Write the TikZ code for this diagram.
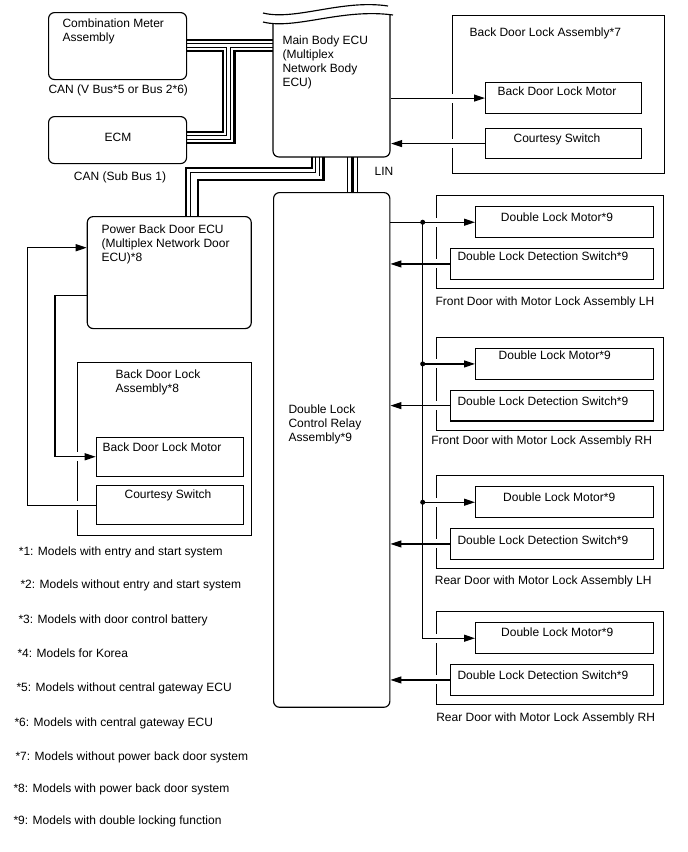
\documentclass[tikz,border=0pt]{standalone}
\usepackage{fontspec}
\setmainfont{Liberation Sans}
\usetikzlibrary{arrows.meta,backgrounds,calc}
\begin{document}
\begin{tikzpicture}[x=1pt,y=-1pt,font=\fontsize{12}{14}\selectfont,line width=1.15pt,
  boxr/.style={draw,rounded corners=6pt,inner sep=0pt,anchor=north west},
  boxs/.style={draw,inner sep=0pt,anchor=north west},
  txt/.style={inner sep=0pt,anchor=base west},
  txtc/.style={inner sep=0pt,anchor=base},
  txtm/.style={inner sep=0pt,anchor=north west,align=left},
  arr/.style={-{Triangle[length=11pt,width=7pt]}},
  gapbox/.style={fill=white,draw=none,inner sep=0pt,minimum width=4pt,minimum height=9pt},
  jdot/.style={circle,fill=black,draw=none,inner sep=0pt,minimum size=5pt}]
\useasboundingbox (0,0) rectangle (688,852);

% ---------- top left units ----------
\node[boxr,minimum width=138pt,minimum height=67pt] (cm) at (48,12) {};
\node[txtm] (cmT) at (62,18.5) {Combination Meter\\Assembly};
\node[txt] (canV) at (48,93.3) {CAN (V Bus*5 or Bus 2*6)};
\node[boxr,minimum width=138pt,minimum height=47pt] (ecm) at (48,116) {};
\node[txtc] (ecmT) at (118,141.3) {ECM};
\node[txtc] (canS) at (120,180.3) {CAN (Sub Bus 1)};

% ---------- main body ECU ----------
\node[inner sep=0pt,anchor=south west,minimum width=117pt,minimum height=137pt] (mb) at (273,157) {};
\draw[rounded corners=6pt] (273,23.5) -- (273,157) -- (390,157) -- (390,14.6);
\draw (263,22) .. controls (295,30) and (342,8) .. (393,15);
\draw (263,13) .. controls (295,21) and (342,-1) .. (388,6);
\node[txtm] (mbT) at (282,35.5) {Main Body ECU\\(Multiplex\\Network Body\\ECU)};
\node[txtc] (linT) at (384,175.3) {LIN};

% ---------- back door lock assembly *7 ----------
\node[boxs,minimum width=212pt,minimum height=158pt] (bda7) at (452,15) {};
\node[txt] (bda7T) at (469,36.3) {Back Door Lock Assembly*7};
\node[boxs,minimum width=156pt,minimum height=31pt] (bdm7) at (485,82) {};
\node[txt] (bdm7T) at (497,95.3) {Back Door Lock Motor};
\node[boxs,minimum width=156pt,minimum height=30pt] (cs7) at (485,128) {};
\node[txtc] (cs7T) at (557,142.3) {Courtesy Switch};

% ---------- power back door ECU ----------
\node[boxr,minimum width=164pt,minimum height=112pt] (pbd) at (86.7,216) {};
\node[txtm] (pbdT) at (101,224.5) {Power Back Door ECU\\(Multiplex Network Door\\ECU)*8};

% ---------- back door lock assembly *8 ----------
\node[boxs,minimum width=173.4pt,minimum height=173.3pt] (bda8) at (77.3,361.7) {};
\node[txtm] (bda8T) at (115,369.5) {Back Door Lock\\Assembly*8};
\node[boxs,minimum width=147.6pt,minimum height=39pt] (bdm8) at (95.7,436.7) {};
\node[txt] (bdm8T) at (102,451) {Back Door Lock Motor};
\node[boxs,minimum width=147.6pt,minimum height=39pt] (cs8) at (95.7,485) {};
\node[txtc] (cs8T) at (168,498.6) {Courtesy Switch};

% ---------- double lock control relay ----------
\node[boxr,minimum width=116.3pt,minimum height=514.7pt] (dl) at (273,192) {};
\node[txtm] (dlT) at (288,403.8) {Double Lock\\Control Relay\\Assembly*9};

% ---------- door groups ----------
\foreach \n/\G/\mc/\mx/\sc/\lx/\ly/\lab in {
  1/195/21.7/557/61/435/300.7/Front Door with Motor Lock Assembly LH,
  2/336.7/18.3/554.7/64.3/430.7/440/Front Door with Motor Lock Assembly RH,
  3/475/21.7/559.2/65/434.3/580/Rear Door with Motor Lock Assembly LH,
  4/611/20.7/557.2/64/435.7/716.7/Rear Door with Motor Lock Assembly RH}{
  \node[boxs,minimum width=227.6pt,minimum height=93.3pt] (door\n) at (435.7,\G) {};
  \node[boxs,minimum width=178.3pt,minimum height=30.7pt] (mot\n) at (475,\G+11.3) {};
  \node[txtc] (motT\n) at (\mx,\G+\mc+4.3) {Double Lock Motor*9};
  \node[boxs,minimum width=203.3pt,minimum height=30.7pt] (sw\n) at (450,\G+53) {};
  \node[txt] (swT\n) at (457,\G+\sc+4.3) {Double Lock Detection Switch*9};
  \node[txt] (lab\n) at (\lx,\ly+4.3) {\lab};
  \node[gapbox] (gm\n) at (door\n.west |- mot\n.west) {};
  \node[gapbox] (gs\n) at (door\n.west |- sw\n.west) {};
  \draw[arr] (sw\n.west) -- (dl.east |- sw\n.west);
}

% ---------- crossing gaps ----------
\node[gapbox] (g7a) at (bda7.west |- bdm7.west) {};
\node[gapbox] (g7b) at (bda7.west |- cs7.west) {};
\node[gapbox] (g8a) at (bda8.west |- bdm8.west) {};
\node[gapbox] (g8b) at (bda8.west |- cs8.west) {};

% ---------- connectors ----------
\draw[arr] (mb.east |- bdm7.west) -- (bdm7.west);
\draw[arr] (cs7.west) -- (mb.east |- cs7.west);

\coordinate (l1) at (27.3,247.7);
\coordinate (l2) at (55,295.7);
\draw[arr] (cs8.west) -| (l1) -- (pbd.west |- l1);
\draw[arr] (pbd.west |- l2) -- (l2) |- (bdm8.west);

\coordinate (vb) at (422.7,0);
\node[jdot] (d1) at (vb |- mot1.west) {};
\node[jdot] (d2) at (vb |- mot2.west) {};
\node[jdot] (d3) at (vb |- mot3.west) {};
\draw[arr] (dl.east |- mot1.west) -- (mot1.west);
\draw[arr] (d2.center) -- (mot2.west);
\draw[arr] (d3.center) -- (mot3.west);
\draw[arr] (d1.center) -- (vb |- mot4.west) -- (mot4.west);

% ---------- legend ----------
\foreach \i/\lx/\ly/\t in {
  1/18.3/551/{*1: Models with entry and start system},
  2/20/584/{*2: Models without entry and start system},
  3/18/619/{*3: Models with door control battery},
  4/17/653.3/{*4: Models for Korea},
  5/16/687.3/{*5: Models without central gateway ECU},
  6/14/722.3/{*6: Models with central gateway ECU},
  7/15/755.7/{*7: Models without power back door system},
  8/13/787.7/{*8: Models with power back door system},
  9/13/820/{*9: Models with double locking function}}{
  \node[txt] (leg\i) at (\lx,\ly+4.3) {\t};
}

% ---------- buses (background) ----------
\coordinate (ja) at (228.7,45.5);
\coordinate (jb) at (228.7,137.5);
\coordinate (jc) at (317.7,174);
\coordinate (jd) at (192,174);
\coordinate (lin) at (352.5,0);
\begin{scope}[on background layer]
  \fill[white] (0,0) rectangle (688,852);
  \foreach \w/\c in {13.8/black,9.2/white,4.6/black,3/white}{
    \draw[line width=\w pt,draw=\c,line join=miter]
      (cm.east |- ja) -- (mb.west |- ja)
      (ecm.east |- jb) -- (jb) -- (ja)
      (mb.south -| jc) -- (jc) -- (jd) -- (pbd.north -| jd);
  }
  \foreach \w/\c in {11/black,9/white,2.7/black}{
    \draw[line width=\w pt,draw=\c] (mb.south -| lin) -- (dl.north -| lin);
  }
\end{scope}
\end{tikzpicture}
\end{document}
